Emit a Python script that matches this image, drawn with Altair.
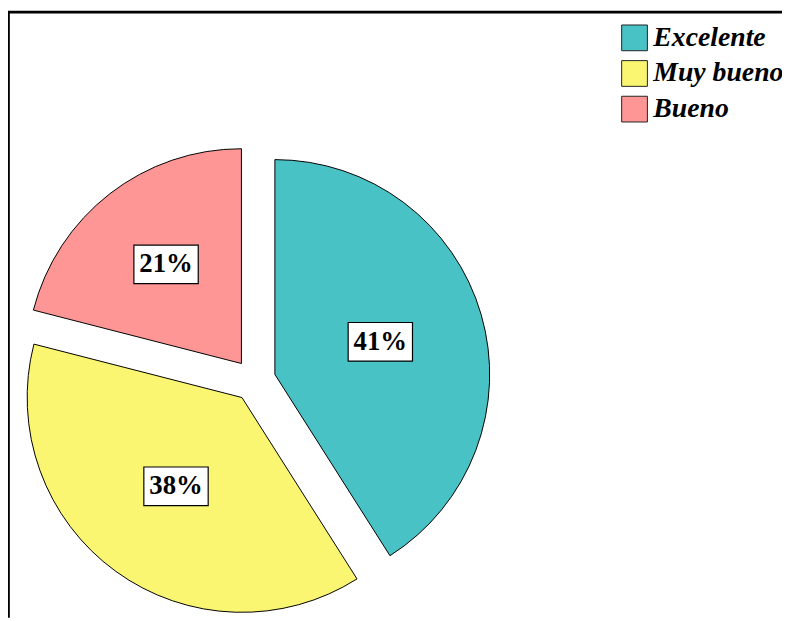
import altair as alt
import pandas as pd

categorias = ["Excelente", "Muy bueno", "Bueno"]
porcentajes = [41, 38, 21]
colores = ["#48C2C5", "#FBF671", "#FF9696"]

df = pd.DataFrame({"cat": categorias, "pct": porcentajes, "idx": list(range(len(categorias)))})

W, H = 782, 613
CX, CY = 249, 373
R = 217
D = 21.5

base = alt.Chart(df).transform_window(
    cum="sum(pct)", sort=[alt.SortField("idx")], frame=[None, 0]
).transform_joinaggregate(total="sum(pct)").transform_calculate(
    start="(datum.cum - datum.pct) / datum.total * 2 * PI",
    end="datum.cum / datum.total * 2 * PI",
    mid="(datum.start + datum.end) / 2",
    half="(datum.end - datum.start) / 2",
    px=f"{CX} + {D} * sin(datum.mid)",
    py=f"{CY} - {D} * cos(datum.mid)",
    lr=f"57 + {R} * sin(datum.half) / (3 * datum.half)",
    lx="datum.px + datum.lr * sin(datum.mid)",
    ly="datum.py - datum.lr * cos(datum.mid) - 2",
    bx1="datum.lx - 32.5",
    bx2="datum.lx + 32.5",
    by1="datum.ly - 19.5",
    by2="datum.ly + 19.5",
    lab="datum.pct + '%'",
)

arcs = base.mark_arc(outerRadius=R, stroke="black", strokeWidth=1).encode(
    x=alt.X("px:Q", scale=None, axis=None),
    y=alt.Y("py:Q", scale=None, axis=None),
    theta=alt.Theta("start:Q", scale=None, stack=False),
    theta2="end:Q",
    color=alt.Color(
        "cat:N",
        scale=alt.Scale(domain=categorias, range=colores),
        legend=alt.Legend(
            orient="none", legendX=619, legendY=13, title=None,
            symbolType="square", symbolSize=676, symbolStrokeWidth=1,
            symbolStrokeColor="#222222", symbolOpacity=1,
            labelFont="Liberation Serif", labelFontSize=28, labelFontStyle="italic",
            labelFontWeight="bold", labelColor="black", labelOffset=5,
            rowPadding=6, padding=0, labelLimit=300,
        ),
    ),
)

boxes = base.mark_rect(fill="white", stroke="black", strokeWidth=1.2).encode(
    x=alt.X("bx1:Q", scale=None, axis=None),
    x2="bx2:Q",
    y=alt.Y("by1:Q", scale=None, axis=None),
    y2="by2:Q",
)

texts = base.mark_text(
    font="Liberation Serif", fontSize=27, fontWeight="bold", color="black",
    align="center", baseline="middle",
).encode(
    x=alt.X("lx:Q", scale=None, axis=None),
    y=alt.Y("ly:Q", scale=None, axis=None),
    text="lab:N",
)

border_data = alt.Data(values=[{"a": 1}])
left_rule = alt.Chart(border_data).mark_rule(color="black", strokeWidth=2.5).encode(
    x=alt.value(0.6), y=alt.value(0), y2=alt.value(H)
)
top_rule = alt.Chart(border_data).mark_rule(color="black", strokeWidth=2.7).encode(
    x=alt.value(0), x2=alt.value(W), y=alt.value(1)
)

chart = alt.layer(top_rule, left_rule, arcs, boxes, texts).properties(
    width=W, height=H, padding=0, autosize=alt.AutoSizeParams(type="none"),
    background="white",
).configure_view(stroke=None)

chart.save("out.html", embed_options={"renderer": "svg", "actions": False})
